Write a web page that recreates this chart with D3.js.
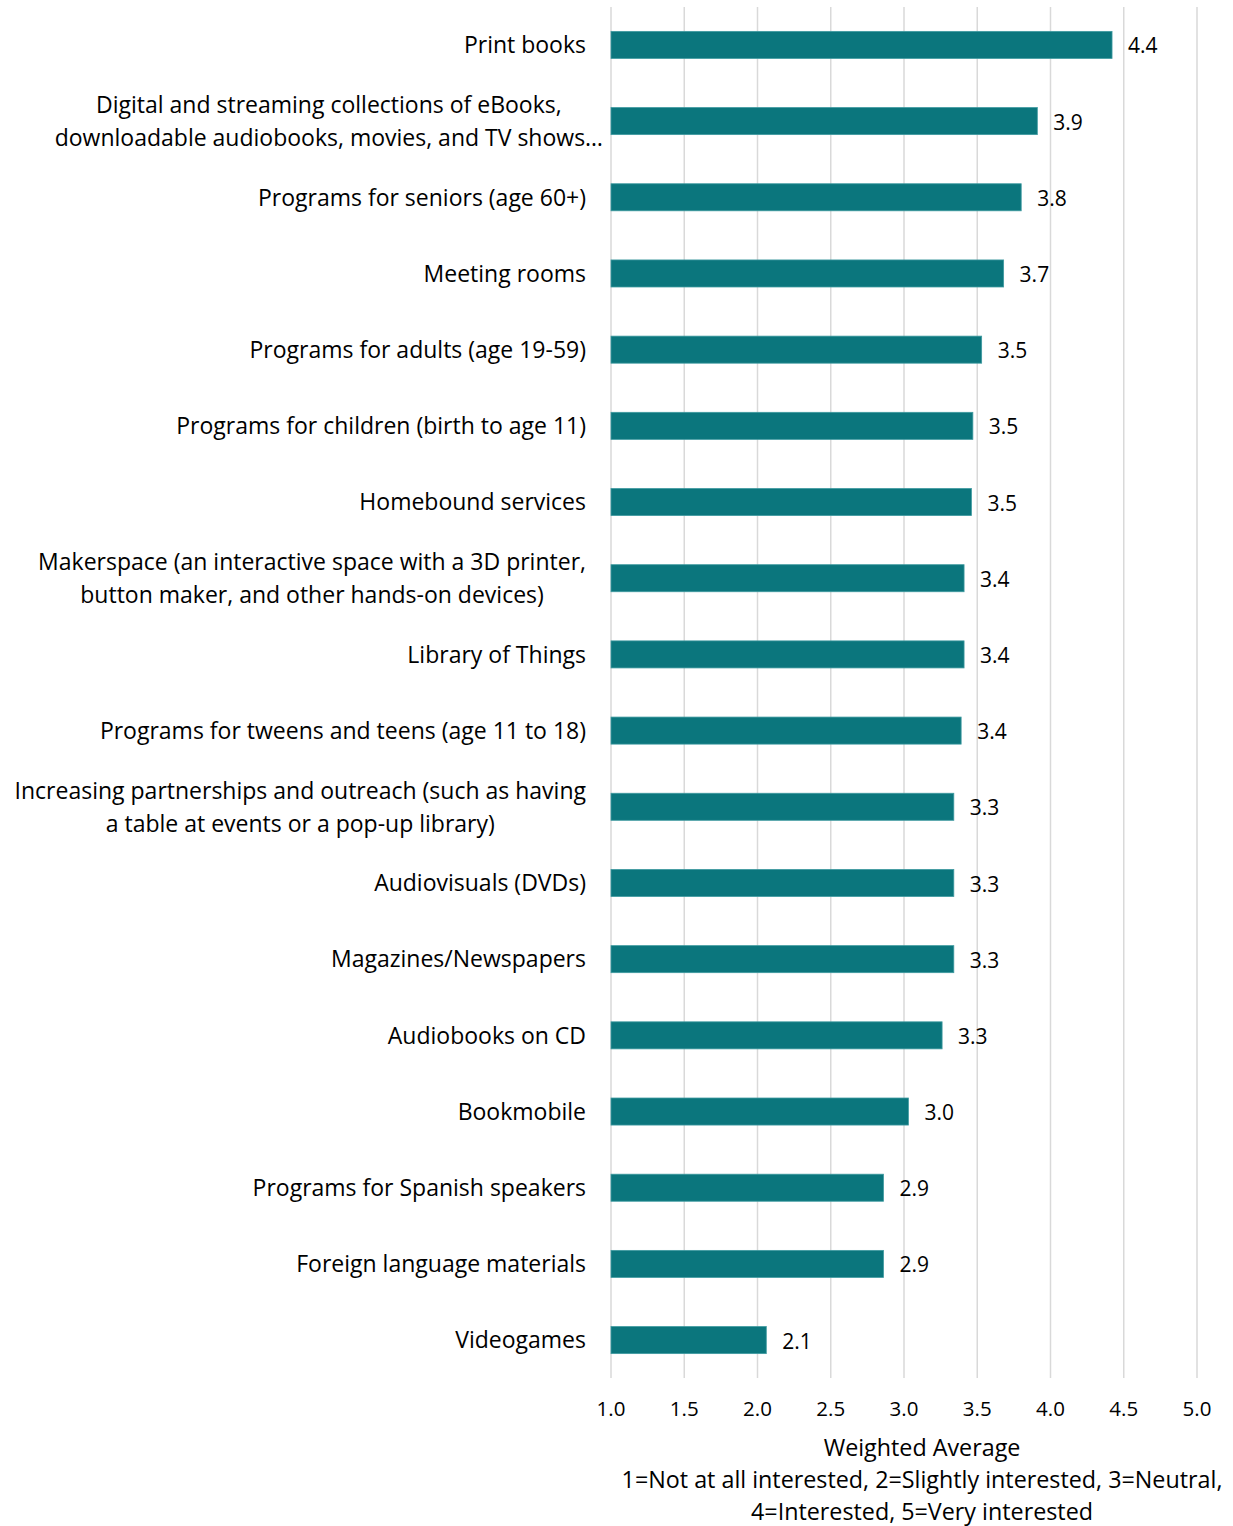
<!DOCTYPE html>
<html>
<head>
<meta charset="utf-8">
<script src="https://cdn.jsdelivr.net/npm/d3@7/dist/d3.min.js"></script>
<style>
  html, body { margin: 0; padding: 0; background: #fff; }
  svg text { font-family: "Open Sans", Lato, sans-serif; fill: #000; }
</style>
</head>
<body>
<svg id="chart" width="1233" height="1526"></svg>
<script>
// Service categories (each entry is a list of label lines)
const categories = [
  ["Print books"],
  ["Digital and streaming collections of eBooks,", "downloadable audiobooks, movies, and TV shows\u2026"],
  ["Programs for seniors (age 60+)"],
  ["Meeting rooms"],
  ["Programs for adults (age 19-59)"],
  ["Programs for children (birth to age 11)"],
  ["Homebound services"],
  ["Makerspace (an interactive space with a 3D printer,", "button maker, and other hands-on devices)"],
  ["Library of Things"],
  ["Programs for tweens and teens (age 11 to 18)"],
  ["Increasing partnerships and outreach (such as having", "a table at events or a pop-up library)"],
  ["Audiovisuals (DVDs)"],
  ["Magazines/Newspapers"],
  ["Audiobooks on CD"],
  ["Bookmobile"],
  ["Programs for Spanish speakers"],
  ["Foreign language materials"],
  ["Videogames"]
];

// Weighted average interest (1-5 scale)
const values = [4.42, 3.91, 3.80, 3.68, 3.53, 3.47, 3.46, 3.41, 3.41, 3.39,
                3.34, 3.34, 3.34, 3.26, 3.03, 2.86, 2.86, 2.06];

const xTicks = [1.0, 1.5, 2.0, 2.5, 3.0, 3.5, 4.0, 4.5, 5.0];
const axisTitle = ["Weighted Average",
  "1=Not at all interested, 2=Slightly interested, 3=Neutral,",
  "4=Interested, 5=Very interested"];

const svg = d3.select("#chart");
const plot = { left: 611, right: 1197, top: 7, bottom: 1378 };

const x = d3.scaleLinear().domain([1, 5]).range([plot.left, plot.right]);
const y = d3.scaleBand()
  .domain(d3.range(categories.length))
  .range([plot.top, plot.bottom])
  .paddingInner(0.645)
  .paddingOuter(0.32);

// Vertical gridlines
svg.append("g")
  .selectAll("line")
  .data(xTicks)
  .join("line")
  .attr("x1", d => x(d)).attr("x2", d => x(d))
  .attr("y1", plot.top).attr("y2", plot.bottom)
  .attr("stroke", "#d9d9d9")
  .attr("stroke-width", 1.5);

// Bars
svg.append("g")
  .selectAll("rect")
  .data(values)
  .join("rect")
  .attr("x", x(1))
  .attr("y", (d, i) => y(i))
  .attr("width", d => x(d) - x(1))
  .attr("height", y.bandwidth())
  .attr("fill", "#0b767d")
  .attr("stroke", "#3f9aa0")
  .attr("stroke-width", 0.8);

// Value labels
const fmt = d3.format(".1f");
svg.append("g")
  .selectAll("text")
  .data(values)
  .join("text")
  .attr("x", d => x(d) + 16)
  .attr("y", (d, i) => y(i) + y.bandwidth() / 2 + 1)
  .attr("dy", "0.36em")
  .attr("font-size", 21)
  .text(d => fmt(d));

// Category labels: lines centred on each other, block right-aligned
const labelRight = 586;
const lineH = 33;
const catG = svg.append("g");
categories.forEach((lines, i) => {
  const g = catG.append("g");
  const cy = y(i) + y.bandwidth() / 2;
  const texts = lines.map((ln, k) => g.append("text")
    .attr("font-size", 23)
    .attr("text-anchor", "middle")
    .attr("y", cy + (k - (lines.length - 1) / 2) * lineH)
    .attr("dy", "0.36em")
    .text(ln));
  const maxW = d3.max(texts, t => t.node().getComputedTextLength());
  const shift = lines.length > 1 && lines[1].endsWith("\u2026") ? 17 : 0;
  texts.forEach(t => t.attr("x", labelRight - maxW / 2 + shift));
});

// X axis tick labels
svg.append("g")
  .selectAll("text")
  .data(xTicks)
  .join("text")
  .attr("x", d => x(d))
  .attr("y", 1409)
  .attr("dy", "0.36em")
  .attr("text-anchor", "middle")
  .attr("font-size", 20.5)
  .text(d => fmt(d));

// Axis title
svg.append("g")
  .selectAll("text")
  .data(axisTitle)
  .join("text")
  .attr("x", 922)
  .attr("y", (d, i) => 1448 + i * 32)
  .attr("dy", "0.36em")
  .attr("text-anchor", "middle")
  .attr("font-size", 23.3)
  .text(d => d);
</script>
</body>
</html>
